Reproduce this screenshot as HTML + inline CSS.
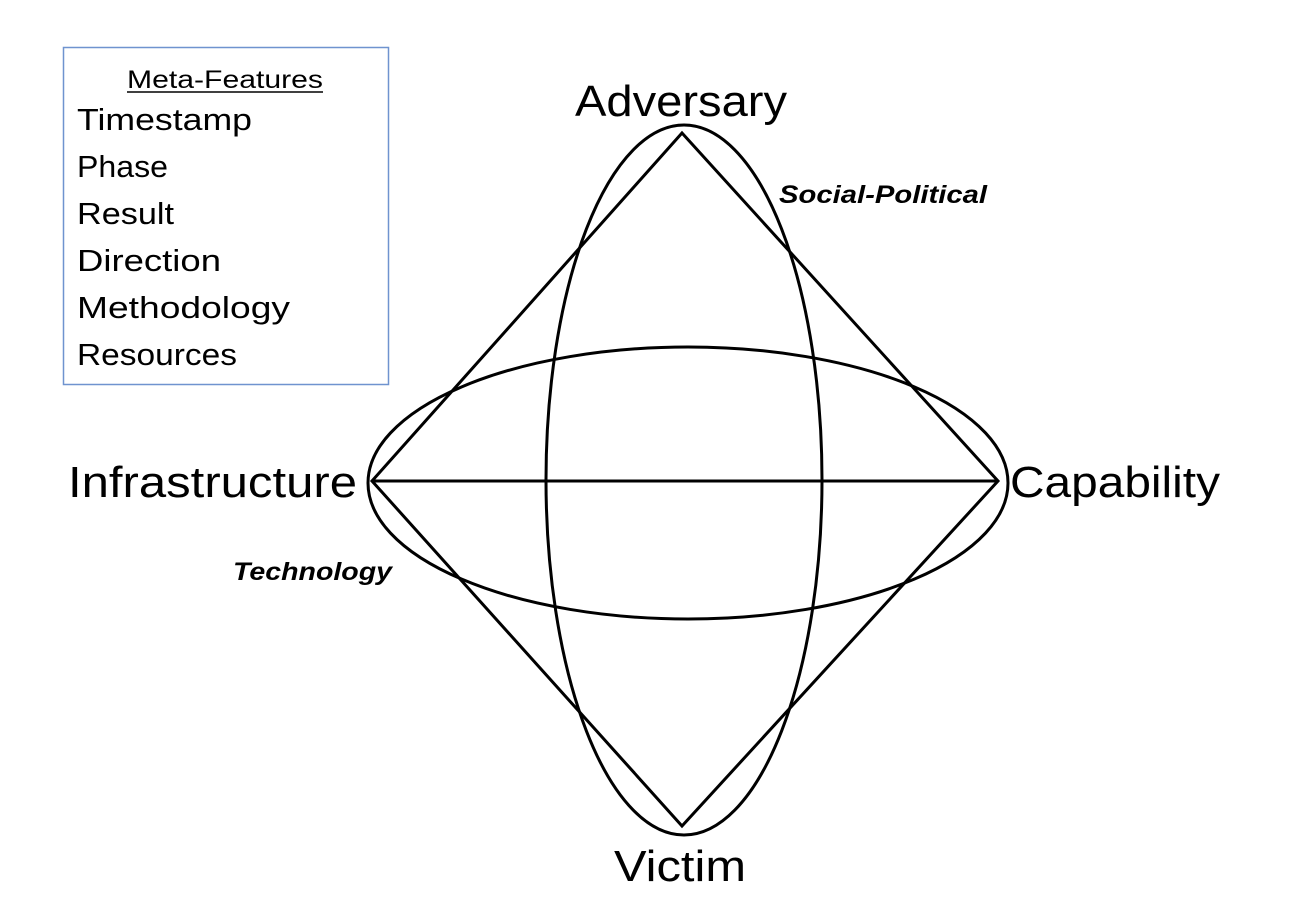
<!DOCTYPE html>
<html><head><meta charset="utf-8"><style>
html,body{margin:0;padding:0;background:#fff;width:1300px;height:919px;overflow:hidden}
svg{display:block}
text{font-family:"Liberation Sans",sans-serif;fill:#000}
</style></head><body>
<svg width="1300" height="919" viewBox="0 0 1300 919" xmlns="http://www.w3.org/2000/svg">
<rect x="63.5" y="47.5" width="325" height="337" fill="#fff" stroke="#6f93cf" stroke-width="1.5"/>
<text x="127" y="88" font-size="25" textLength="196" lengthAdjust="spacingAndGlyphs">Meta-Features</text>
<line x1="127" y1="92" x2="323" y2="92" stroke="#000" stroke-width="1.5"/>
<g font-size="31">
<text x="77" y="130" textLength="175" lengthAdjust="spacingAndGlyphs">Timestamp</text>
<text x="77" y="177" textLength="91" lengthAdjust="spacingAndGlyphs">Phase</text>
<text x="77" y="224" textLength="97" lengthAdjust="spacingAndGlyphs">Result</text>
<text x="77" y="271" textLength="144" lengthAdjust="spacingAndGlyphs">Direction</text>
<text x="77" y="318" textLength="213" lengthAdjust="spacingAndGlyphs">Methodology</text>
<text x="77" y="365" textLength="160" lengthAdjust="spacingAndGlyphs">Resources</text>
</g>
<g fill="none" stroke="#000" stroke-width="3">
<ellipse cx="684" cy="480" rx="138" ry="355"/>
<ellipse cx="688" cy="483" rx="320" ry="136"/>
<polygon points="682,133 998,481 682,826 372,481"/>
<line x1="372" y1="481" x2="998" y2="481"/>
</g>
<g font-size="44">
<text x="575" y="116" textLength="212" lengthAdjust="spacingAndGlyphs">Adversary</text>
<text x="68" y="497" textLength="289" lengthAdjust="spacingAndGlyphs">Infrastructure</text>
<text x="1010" y="497" textLength="210" lengthAdjust="spacingAndGlyphs">Capability</text>
<text x="614" y="881" textLength="132" lengthAdjust="spacingAndGlyphs">Victim</text>
</g>
<g font-size="25" font-weight="bold" font-style="italic">
<text x="779" y="203" textLength="208" lengthAdjust="spacingAndGlyphs">Social-Political</text>
<text x="233" y="580" textLength="159" lengthAdjust="spacingAndGlyphs">Technology</text>
</g>
</svg>
</body></html>
